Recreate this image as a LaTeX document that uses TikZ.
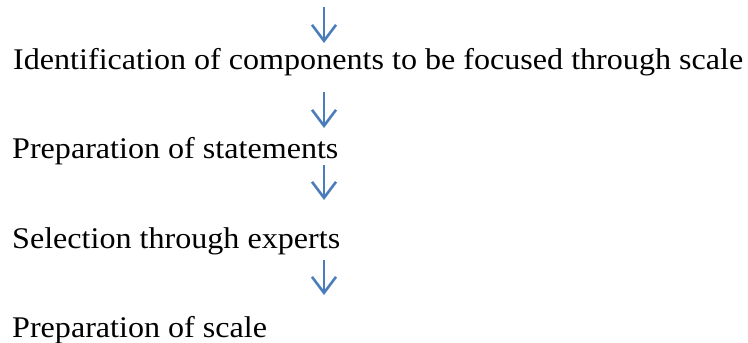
\documentclass[tikz,border=0pt]{standalone}
\usepackage{fontspec}
\setmainfont[FakeStretch=1.07]{Liberation Serif}
\usetikzlibrary{arrows.meta}
\definecolor{arrowblue}{HTML}{4A7EBB}
\begin{document}
\begin{tikzpicture}[x=1pt,y=-1pt,
  steptext/.style={anchor=base west, inner sep=0pt, font=\fontsize{30}{34}\selectfont},
  flowarrow/.style={draw=arrowblue, line width=2.6pt, -{Straight Barb[length=16pt,width=24pt,line width=2.6pt]}}]
\useasboundingbox (0,0) rectangle (748,343);
\node[steptext] (t1) at (13,69) {Identification of components to be focused through scale};
\node[steptext] (t2) at (12,158) {Preparation of statements};
\node[steptext] (t3) at (12,248) {Selection through experts};
\node[steptext] (t4) at (12,337) {Preparation of scale};
\coordinate (a1s) at (324,7);   \coordinate (a1e) at (324,43);
\coordinate (a2s) at (324,92);  \coordinate (a2e) at (324,128);
\coordinate (a3s) at (324,165); \coordinate (a3e) at (324,200);
\coordinate (a4s) at (324,260); \coordinate (a4e) at (324,295);
\draw[flowarrow] (a1s) -- (a1e);
\draw[flowarrow] (a2s) -- (a2e);
\draw[flowarrow] (a3s) -- (a3e);
\draw[flowarrow] (a4s) -- (a4e);
\end{tikzpicture}
\end{document}
